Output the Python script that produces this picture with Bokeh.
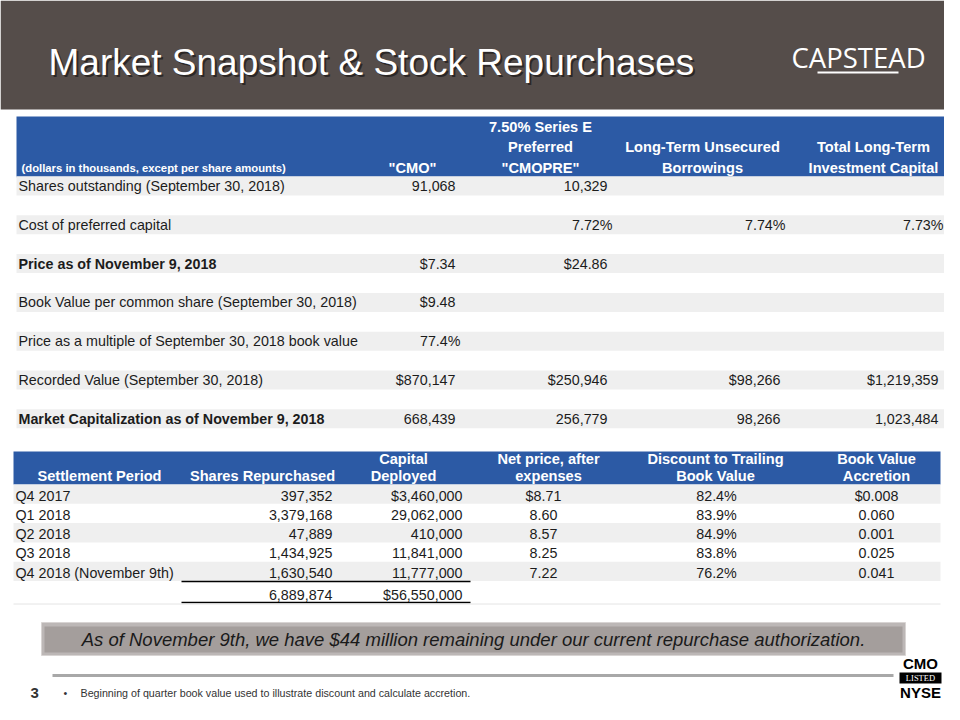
from bokeh.plotting import figure
from bokeh.models import Range1d
from bokeh.core.properties import value
from bokeh.embed import file_html
from bokeh.resources import INLINE

# ---------------- data ----------------
slide_title = "Market Snapshot & Stock Repurchases"
logo_text = "CAPSTEAD"
page_number = "3"
footnote = "Beginning of quarter book value used to illustrate discount and calculate accretion."
callout = "As of November 9th, we have $44 million remaining under our current repurchase authorization."

snap_note = "(dollars in thousands, except per share amounts)"
snap_col_headers = [['"CMO"'],
                    ["7.50% Series E", "Preferred", '"CMOPRE"'],
                    ["Long-Term Unsecured", "Borrowings"],
                    ["Total Long-Term", "Investment Capital"]]
snap_labels = ["Shares outstanding (September 30, 2018)",
               "Cost of preferred capital",
               "Price as of November 9, 2018",
               "Book Value per common share (September 30, 2018)",
               "Price as a multiple of September 30, 2018 book value",
               "Recorded Value (September 30, 2018)",
               "Market Capitalization as of November 9, 2018"]
snap_bold = [False, False, True, False, False, False, True]
snap_cmo = ["91,068", "", "$7.34", "$9.48", "77.4%", "$870,147", "668,439"]
snap_pref = ["10,329", "7.72%", "$24.86", "", "", "$250,946", "256,779"]
snap_unsecured = ["", "7.74%", "", "", "", "$98,266", "98,266"]
snap_total = ["", "7.73%", "", "", "", "$1,219,359", "1,023,484"]

rep_headers = [["Settlement Period"], ["Shares Repurchased"], ["Capital", "Deployed"],
               ["Net price, after", "expenses"], ["Discount to Trailing", "Book Value"],
               ["Book Value", "Accretion"]]
rep_periods = ["Q4 2017", "Q1 2018", "Q2 2018", "Q3 2018", "Q4 2018 (November 9th)"]
rep_shares = ["397,352", "3,379,168", "47,889", "1,434,925", "1,630,540"]
rep_capital = ["$3,460,000", "29,062,000", "410,000", "11,841,000", "11,777,000"]
rep_net_price = ["$8.71", "8.60", "8.57", "8.25", "7.22"]
rep_discount = ["82.4%", "83.9%", "84.9%", "83.8%", "76.2%"]
rep_accretion = ["$0.008", "0.060", "0.001", "0.025", "0.041"]
rep_total_shares = ["6,889,874"]
rep_total_capital = ["$56,550,000"]

# ---------------- styles ----------------
FONT = "Liberation Sans"
BAND = "#554d4a"
BLUE = "#2c5aa5"
STRIPE = "#efefef"
INK = "#1c1c1c"
W, H = 944, 704
BODY = 14.3
HEAD = 14.6

p = figure(width=W, height=H, output_backend="svg", toolbar_location=None,
           x_range=Range1d(0, W), y_range=Range1d(H, 0), min_border=0)
p.axis.visible = False
p.grid.visible = False
p.outline_line_color = None
p.background_fill_color = "white"
p.border_fill_color = "white"


def txt(xs, ys, texts, size, align="left", color=INK, style="normal", font=FONT, alpha=1.0):
    p.text(x=xs, y=ys, text=texts, text_font=value(font), text_font_size=f"{size}px",
           text_align=align, text_baseline="middle", text_color=color,
           text_font_style=style, text_alpha=alpha)


# title band
p.quad(left=[0], right=[W], top=[0], bottom=[109], fill_color=BAND, line_color=None)
txt([50], [64], [slide_title], 37, color="#1a1716", alpha=0.7)
txt([48], [62], [slide_title], 37, color="white")
txt([791], [57], [logo_text], 27.5, color="white", font="Open Sans")
p.segment(x0=[817], y0=[72], x1=[898], y1=[72], line_color="white", line_width=2)

# ---------------- snapshot table ----------------
p.quad(left=[16], right=[W], top=[116], bottom=[176], fill_color=BLUE, line_color=None)
p.segment(x0=[16], y0=[176.5], x1=[W], y1=[176.5], line_color="#9fb0cf", line_width=1)
txt([21], [167], [snap_note], 11.3, color="white", style="bold")
col_centers = [412, 540, 702, 873]
for cx, lines in zip(col_centers, snap_col_headers):
    n = len(lines)
    ys = [167 - 20.5 * (n - 1 - k) for k in range(n)]
    txt([cx] * n, ys, lines, HEAD, align="center", color="white", style="bold")

row_y = [185.5 + 38.8 * i for i in range(len(snap_labels))]
p.quad(left=[16] * len(row_y), right=[W] * len(row_y),
       top=[y - 9.5 for y in row_y], bottom=[y + 9.5 for y in row_y],
       fill_color=STRIPE, line_color=None)
for lab, b, y in zip(snap_labels, snap_bold, row_y):
    txt([18], [y], [lab], BODY, style="bold" if b else "normal")

col_rights = [455, 607, 780, 938]
for right, vals in zip(col_rights, [snap_cmo, snap_pref, snap_unsecured, snap_total]):
    xs = [right + (5 if v.endswith("%") else 0) for v in vals]
    txt(xs, row_y, vals, BODY, align="right")

# ---------------- repurchase table ----------------
p.quad(left=[13], right=[940], top=[451], bottom=[484], fill_color=BLUE, line_color=None)
rep_centers = [99, 262, 403, 548, 715, 876]
for cx, lines in zip(rep_centers, rep_headers):
    n = len(lines)
    ys = [475 - 17 * (n - 1 - k) for k in range(n)]
    txt([cx] * n, ys, lines, HEAD, align="center", color="white", style="bold")

n_rep = len(rep_periods)
band_top = [484 + 19.3 * i for i in range(n_rep)]
p.quad(left=[13] * 3, right=[940] * 3, top=[band_top[i] for i in (0, 2, 4)],
       bottom=[band_top[i] + 19.3 for i in (0, 2, 4)], fill_color=STRIPE, line_color=None)
rep_y = [band_top[i] + 11 for i in range(n_rep)]
txt([15] * n_rep, rep_y, rep_periods, BODY)
txt([332] * n_rep, rep_y, rep_shares, BODY, align="right")
txt([462] * n_rep, rep_y, rep_capital, BODY, align="right")
txt([543] * n_rep, rep_y, rep_net_price, BODY, align="center")
txt([716] * n_rep, rep_y, rep_discount, BODY, align="center")
txt([876] * n_rep, rep_y, rep_accretion, BODY, align="center")
txt([332], [594], rep_total_shares, BODY, align="right")
txt([462], [594], rep_total_capital, BODY, align="right")
p.segment(x0=[181, 181], y0=[581, 602], x1=[470, 470], y1=[581, 602], line_color="black", line_width=1.5)
p.segment(x0=[13], y0=[603.5], x1=[940], y1=[603.5], line_color="#e4e4e4", line_width=1)

# ---------------- callout ----------------
p.quad(left=[41], right=[905], top=[622], bottom=[655], fill_color="#bcb7b6", line_color="#d8d4d3")
p.quad(left=[44], right=[902], top=[626], bottom=[652], fill_color="#a49e9c", line_color=None)
txt([473], [638.5], [callout], 18.5, align="center", style="italic", color="#1a1a1a")

# ---------------- footer ----------------
p.segment(x0=[52], y0=[675], x1=[893], y1=[675], line_color="#a8a8a8", line_width=3)
txt([30], [692], [page_number], 15, style="bold", color="#333333")
txt([63], [692], ["\u2022"], 10.7, color="#333333")
txt([80], [692], [footnote], 10.7, color="#333333")

# NYSE listing mark
txt([920], [663], ["CMO"], 15, align="center", style="bold", color="black")
p.quad(left=[899], right=[941], top=[672], bottom=[683], fill_color="black", line_color=None)
txt([920], [677.5], ["LISTED"], 8.5, align="center", color="white", font="Liberation Serif")
txt([920], [692], ["NYSE"], 15, align="center", style="bold", color="black")

open("out.html", "w").write(file_html(p, INLINE))
